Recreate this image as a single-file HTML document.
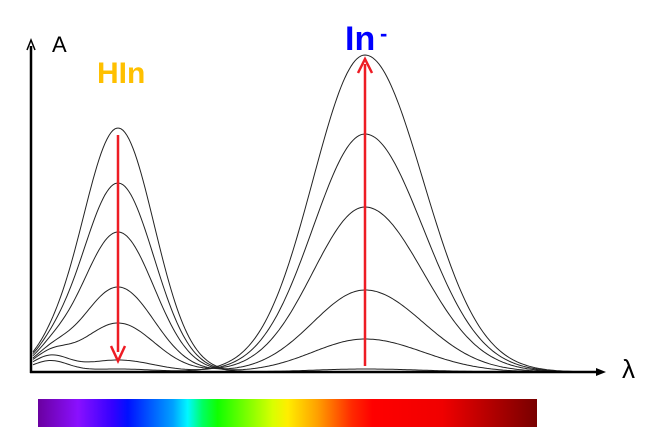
<!DOCTYPE html>
<html><head><style>
html,body{margin:0;padding:0;background:#fff;width:660px;height:438px;overflow:hidden}
svg{display:block}
</style></head><body>
<svg id="s" width="660" height="438" viewBox="0 0 660 438">
<defs>
<linearGradient id="sp" x1="0" x2="1">
<stop offset="0" stop-color="#6a00a0"/>
<stop offset="0.08" stop-color="#8a10ff"/>
<stop offset="0.15" stop-color="#3300ff"/>
<stop offset="0.18" stop-color="#0010ff"/>
<stop offset="0.27" stop-color="#00a0ff"/>
<stop offset="0.30" stop-color="#00f8ff"/>
<stop offset="0.33" stop-color="#00ff60"/>
<stop offset="0.36" stop-color="#10ff00"/>
<stop offset="0.47" stop-color="#d8ff00"/>
<stop offset="0.50" stop-color="#ffee00"/>
<stop offset="0.56" stop-color="#ffa000"/>
<stop offset="0.63" stop-color="#ff2800"/>
<stop offset="0.67" stop-color="#ff0000"/>
<stop offset="0.81" stop-color="#f00000"/>
<stop offset="1" stop-color="#780000"/>
</linearGradient>
</defs>
<rect x="38" y="399" width="499" height="28" fill="url(#sp)"/>
<g id="curves" fill="none" stroke="#222" stroke-width="1"></g>
<line x1="31" y1="373" x2="31" y2="46" stroke="#000" stroke-width="2.5"/>
<path d="M27,50 L31,40 L35,50" fill="none" stroke="#000" stroke-width="1.5"/>
<line x1="30" y1="372" x2="600" y2="372" stroke="#000" stroke-width="2.5"/>
<path d="M596,368 L606,372 L596,376 Z" fill="#000"/>
<text x="52" y="52" font-family="'Liberation Sans', sans-serif" font-size="22" fill="#000">A</text>
<text x="97" y="83" font-family="'Liberation Sans', sans-serif" font-size="30" font-weight="bold" fill="#ffc000">HIn</text>
<text x="345" y="50" font-family="'Liberation Sans', sans-serif" font-size="34" font-weight="bold" fill="#0000ff">In</text>
<text x="380" y="41" font-family="'Liberation Sans', sans-serif" font-size="22" font-weight="bold" fill="#0000ff">-</text>
<text x="622" y="378" font-family="'Liberation Sans', sans-serif" font-size="26" fill="#000">λ</text>
<line x1="118" y1="135" x2="118" y2="352" stroke="#ee1c24" stroke-width="2.5"/>
<path d="M111,346 L118,361 L125,346" fill="none" stroke="#ee1c24" stroke-width="2.5"/>
<line x1="365" y1="366" x2="365" y2="64" stroke="#ee1c24" stroke-width="2.5"/>
<path d="M358,73 L365,59 L372,73" fill="none" stroke="#ee1c24" stroke-width="2.5"/>
</svg>
<script>
var g=document.getElementById('curves');
var A=[244,189,140,85,49,12,3],B=[0,3,33,82,165,238,317];
var L=[8,12,16,22,30,40,44];
function G(x,m,s){return Math.exp(-(x-m)*(x-m)/(2*s*s));}
for(var i=0;i<A.length;i++){
 var d='';
 for(var x=33;x<=575;x+=2){
  var y=372-A[i]*G(x,118,36)-B[i]*(x<365?G(x,365,52):G(x,365,58))-L[i]*G(x,50,18)*(1-i/8);
  d+=(x==33?'M':'L')+x+','+y.toFixed(1);
 }
 var p=document.createElementNS('http://www.w3.org/2000/svg','path');
 p.setAttribute('d',d);g.appendChild(p);
}
</script>
</body></html>
